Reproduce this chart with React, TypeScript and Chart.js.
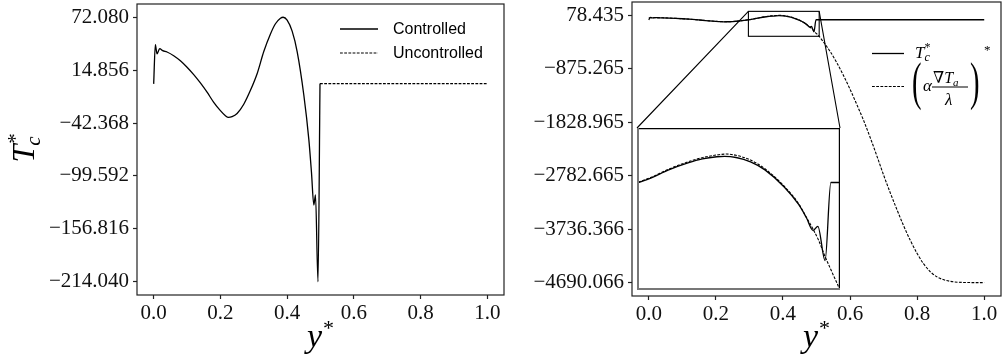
import React, { useEffect, useRef } from 'react';
import { Chart, registerables } from 'chart.js';

Chart.register(...registerables);

// Controlled centre-line temperature T_c* along y*
const Y_CONTROLLED = [
  0, 0.005, 0.01, 0.018, 0.027, 0.04, 0.06, 0.08, 0.10, 0.12,
  0.14, 0.16, 0.18, 0.20, 0.215, 0.224, 0.235, 0.25, 0.27, 0.29,
  0.31, 0.33, 0.35, 0.365, 0.38, 0.388, 0.40, 0.415, 0.43, 0.45,
  0.465, 0.473, 0.48, 0.485, 0.4925, 0.4985,
];
const T_CONTROLLED = [
  0, 42.5, 32.4, 38.1, 36.0, 34.5, 30.5, 25, 18, 10,
  1, -9, -20, -29, -34.5, -36.3, -35.5, -32, -22, -7,
  11, 35, 54, 65, 71, 72.08, 69, 57, 35, -12,
  -60, -96, -131, -120, -214.04, 0.3,
];

// Uncontrolled part of the domain
const Y_UNCONTROLLED = [0.4985, 1.0];
const T_UNCONTROLLED = [0.3, 0.3];

// (alpha * grad T_a / lambda)* along y*
const Y_GRAD = [
  0, 0.027, 0.04, 0.06, 0.08, 0.10, 0.12, 0.14, 0.16, 0.18,
  0.20, 0.215, 0.224, 0.235, 0.25, 0.27, 0.29, 0.31, 0.33, 0.35,
  0.365, 0.38, 0.39, 0.40, 0.415, 0.43, 0.45, 0.465, 0.473, 0.48,
  0.486, 0.492, 0.50, 0.508, 0.52, 0.54, 0.56, 0.58, 0.60, 0.62,
  0.64, 0.66, 0.68, 0.70, 0.72, 0.74, 0.76, 0.78, 0.80, 0.82,
  0.84, 0.86, 0.88, 0.90, 0.92, 0.95, 1.0,
];
const T_GRAD = [
  36, 36.5, 35, 31, 25.5, 18.5, 10.5, 1.5, -8.5, -19.5,
  -28.5, -34, -35.8, -35, -31.5, -21.5, -6, 12.5, 37, 57,
  68.5, 76, 78.435, 75, 62, 38, -10, -58, -95, -128,
  -160, -200, -248, -296, -390, -560, -760, -990, -1240, -1510,
  -1790, -2100, -2430, -2770, -3090, -3390, -3680, -3940, -4170, -4360,
  -4500, -4590, -4640, -4668, -4682, -4688, -4690.066,
];

// Axis ticks
const X_TICKS = [0, 0.2, 0.4, 0.6, 0.8, 1.0];
const X_LABELS = ['0.0', '0.2', '0.4', '0.6', '0.8', '1.0'];
const LEFT_Y_TICKS = [-214.04, -156.816, -99.592, -42.368, 14.856, 72.08];
const LEFT_Y_LABELS = ['−214.040', '−156.816', '−99.592', '−42.368', '14.856', '72.080'];
const RIGHT_Y_TICKS = [-4690.066, -3736.366, -2782.665, -1828.965, -875.265, 78.435];
const RIGHT_Y_LABELS = ['−4690.066', '−3736.366', '−2782.665', '−1828.965', '−875.265', '78.435'];

// Zoomed window shown in the inset
const INSET_X = [0.297, 0.508];
const INSET_Y = [-295, 150];

const LEGEND_LEFT = ['Controlled', 'Uncontrolled'];

const SERIF = "'Liberation Serif', 'DejaVu Serif', serif";
const SANS = "'Liberation Sans', 'DejaVu Sans', sans-serif";
const INK = '#000';
const DASH = [2.8, 1.4];

// inset placement as fractions of the right plot area
const INSET_BOX = { left: 0.014, bottom: 0.02, width: 0.55, height: 0.55 };

const pts = (xs: number[], ys: number[]) => xs.map((x, i) => ({ x, y: ys[i] }));

function paddedRange(series: number[][]) {
  const all = series.flat();
  const lo = Math.min(...all);
  const hi = Math.max(...all);
  const m = 0.05 * (hi - lo);
  return [lo - m, hi + m];
}

const X_RANGE = paddedRange([[...Y_CONTROLLED, ...Y_UNCONTROLLED, ...Y_GRAD]]);

type Run = { t: string; size: number; italic?: boolean; dx?: number; dy?: number; adv?: boolean; sx?: number; family?: string };

function runsWidth(ctx: CanvasRenderingContext2D, runs: Run[]) {
  let w = 0;
  for (const r of runs) {
    ctx.font = `${r.italic ? 'italic ' : ''}${r.size}px ${r.family ?? SERIF}`;
    const rw = ctx.measureText(r.t).width * (r.sx ?? 1);
    if (r.adv !== false) w += (r.dx ?? 0) + rw;
  }
  return w;
}

function drawRuns(ctx: CanvasRenderingContext2D, x: number, y: number, runs: Run[]) {
  let cx = x;
  for (const r of runs) {
    ctx.save();
    ctx.font = `${r.italic ? 'italic ' : ''}${r.size}px ${r.family ?? SERIF}`;
    ctx.textAlign = 'left';
    ctx.textBaseline = 'alphabetic';
    const px = cx + (r.dx ?? 0);
    ctx.translate(px, y + (r.dy ?? 0));
    if (r.sx) ctx.scale(r.sx, 1);
    ctx.fillText(r.t, 0, 0);
    const w = ctx.measureText(r.t).width * (r.sx ?? 1);
    ctx.restore();
    if (r.adv !== false) cx = px + w;
  }
  return cx;
}

const Y_STAR_RUNS: Run[] = [
  { t: 'y', size: 34, italic: true },
  { t: '*', size: 22, dy: -12, dx: 1 },
];

function xTitle(ctx: CanvasRenderingContext2D, cx: number, baseline: number) {
  ctx.fillStyle = INK;
  const w = runsWidth(ctx, Y_STAR_RUNS);
  drawRuns(ctx, cx - w / 2, baseline, Y_STAR_RUNS);
}

function axes(yTicks: number[], yLabels: string[], yRange: number[], yWidth: number, xHeight: number, yPad: number) {
  const tickFont = { family: SERIF, size: 21 };
  const grid = {
    display: true,
    drawOnChartArea: false,
    drawTicks: true,
    tickLength: 4,
    tickColor: '#222',
    tickWidth: 1.2,
  };
  return {
    x: {
      type: 'linear',
      min: X_RANGE[0],
      max: X_RANGE[1],
      afterBuildTicks: (s: any) => {
        s.ticks = X_TICKS.map((v) => ({ value: v }));
      },
      ticks: {
        callback: (_v: any, i: number) => X_LABELS[i],
        font: tickFont,
        color: '#111',
        padding: 2,
        maxRotation: 0,
        autoSkip: false,
      },
      grid,
      border: { display: false },
      afterFit: (s: any) => {
        s.height = xHeight;
        s.paddingLeft = 0;
        s.paddingRight = 0;
      },
    },
    y: {
      type: 'linear',
      min: yRange[0],
      max: yRange[1],
      afterBuildTicks: (s: any) => {
        s.ticks = yTicks.map((v) => ({ value: v }));
      },
      ticks: {
        callback: (_v: any, i: number) => yLabels[i],
        font: tickFont,
        color: '#111',
        padding: yPad,
        autoSkip: false,
      },
      grid,
      border: { display: false },
      afterFit: (s: any) => {
        s.width = yWidth;
        s.paddingTop = 0;
        s.paddingBottom = 0;
      },
    },
  };
}

const framePlugin = {
  id: 'frame',
  afterDraw(chart: any) {
    const { left, top, right, bottom } = chart.chartArea;
    const ctx = chart.ctx;
    ctx.save();
    ctx.strokeStyle = '#222';
    ctx.lineWidth = 1.2;
    ctx.strokeRect(left, top, right - left, bottom - top);
    ctx.restore();
  },
};

function insetBox(area: { left: number; right: number; top: number; bottom: number }) {
  const w = area.right - area.left;
  const h = area.bottom - area.top;
  const left = Math.round(area.left + INSET_BOX.left * w);
  const bottom = Math.round(area.bottom - INSET_BOX.bottom * h);
  const right = Math.round(left + INSET_BOX.width * w);
  const top = Math.round(bottom - INSET_BOX.height * h);
  return { left, right, top, bottom };
}

const solid = (label: string, xs: number[], ys: number[]) => ({
  label,
  data: pts(xs, ys),
  borderColor: INK,
  borderWidth: 1.3,
  pointRadius: 0,
  cubicInterpolationMode: 'monotone',
  fill: false,
});
const dashed = (label: string, xs: number[], ys: number[]) => ({
  ...solid(label, xs, ys),
  borderWidth: 1.1,
  borderDash: DASH,
});

const Y_TC = [...Y_CONTROLLED, ...Y_UNCONTROLLED.slice(1)];
const T_TC = [...T_CONTROLLED, ...T_UNCONTROLLED.slice(1)];

const baseOptions = {
  animation: false,
  responsive: false,
  events: [],
  plugins: { legend: { display: false }, tooltip: { enabled: false } },
};

function leftConfig(): any {
  const yRange = paddedRange([T_CONTROLLED, T_UNCONTROLLED]);
  return {
    type: 'line',
    data: {
      datasets: [
        solid(LEGEND_LEFT[0], Y_CONTROLLED, T_CONTROLLED),
        dashed(LEGEND_LEFT[1], Y_UNCONTROLLED, T_UNCONTROLLED),
      ],
    },
    options: {
      ...baseOptions,
      layout: { padding: { left: 0, right: 8, top: 4, bottom: 0 } },
      scales: axes(LEFT_Y_TICKS, LEFT_Y_LABELS, yRange, 137, 67, 4),
    },
    plugins: [
      framePlugin,
      {
        id: 'leftText',
        afterDraw(chart: any) {
          const ctx = chart.ctx as CanvasRenderingContext2D;
          const area = chart.chartArea;
          ctx.save();
          ctx.fillStyle = INK;
          // legend
          chart.data.datasets.forEach((ds: any, i: number) => {
            const y = 29 + i * 24;
            ctx.beginPath();
            ctx.strokeStyle = INK;
            ctx.lineWidth = ds.borderWidth;
            ctx.setLineDash(ds.borderDash ?? []);
            ctx.moveTo(340, y);
            ctx.lineTo(378, y);
            ctx.stroke();
            ctx.setLineDash([]);
            ctx.font = `16px ${SANS}`;
            ctx.textBaseline = 'middle';
            ctx.fillText(ds.label, 393, y + 1);
          });
          // x title
          xTitle(ctx, (area.left + area.right) / 2, 347);
          // y title, rotated
          const runs: Run[] = [
            { t: 'T', size: 32, italic: true },
            { t: '*', size: 21, dy: -12, dx: 1, adv: false },
            { t: 'c', size: 21, italic: true, dy: 6, dx: -1 },
          ];
          const w = runsWidth(ctx, runs);
          ctx.translate(34, (area.top + area.bottom) / 2);
          ctx.rotate(-Math.PI / 2);
          drawRuns(ctx, -w / 2, 0, runs);
          ctx.restore();
        },
      },
    ],
  };
}

function rightConfig(): any {
  const yRange = paddedRange([T_TC, T_GRAD]);
  return {
    type: 'line',
    data: {
      datasets: [solid('T_c*', Y_TC, T_TC), dashed('grad', Y_GRAD, T_GRAD)],
    },
    options: {
      ...baseOptions,
      layout: { padding: { left: 0, right: 1, top: 2, bottom: 0 } },
      scales: axes(RIGHT_Y_TICKS, RIGHT_Y_LABELS, yRange, 120, 66, 4),
    },
    plugins: [
      framePlugin,
      {
        id: 'zoomMark',
        afterDatasetsDraw(chart: any) {
          const ctx = chart.ctx as CanvasRenderingContext2D;
          const xs = chart.scales.x;
          const ys = chart.scales.y;
          const x0 = xs.getPixelForValue(INSET_X[0]);
          const x1 = xs.getPixelForValue(INSET_X[1]);
          const yT = ys.getPixelForValue(INSET_Y[1]);
          const yB = ys.getPixelForValue(INSET_Y[0]);
          const box = insetBox(chart.chartArea);
          ctx.save();
          ctx.strokeStyle = INK;
          ctx.lineWidth = 1.1;
          ctx.strokeRect(x0, yT, x1 - x0, yB - yT);
          ctx.beginPath();
          ctx.moveTo(x0, yT);
          ctx.lineTo(box.left, box.top);
          ctx.moveTo(x1, yT);
          ctx.lineTo(box.right, box.top);
          ctx.stroke();
          ctx.restore();
        },
      },
      {
        id: 'rightText',
        afterDraw(chart: any) {
          const ctx = chart.ctx as CanvasRenderingContext2D;
          const area = chart.chartArea;
          const ds = chart.data.datasets;
          ctx.save();
          ctx.fillStyle = INK;
          ctx.strokeStyle = INK;
          // legend handles
          [53.5, 86.5].forEach((y, i) => {
            ctx.beginPath();
            ctx.lineWidth = ds[i].borderWidth;
            ctx.setLineDash(ds[i].borderDash ?? []);
            ctx.moveTo(360, y);
            ctx.lineTo(392, y);
            ctx.stroke();
          });
          ctx.setLineDash([]);
          // T_c^*
          drawRuns(ctx, 403, 58, [
            { t: 'T', size: 17, italic: true },
            { t: '*', size: 12, dy: -7, adv: false },
            { t: 'c', size: 12, italic: true, dy: 3 },
          ]);
          // (alpha grad T_a / lambda)^*
          drawRuns(ctx, 400, 99, [{ t: '(', size: 52, sx: 0.55 }]);
          drawRuns(ctx, 411, 90.5, [{ t: 'α', size: 17, italic: true }]);
          drawRuns(ctx, 421, 83, [
            { t: '∇', size: 16 },
            { t: 'T', size: 16, italic: true },
            { t: 'a', size: 11, italic: true, dy: 2.5 },
          ]);
          ctx.beginPath();
          ctx.lineWidth = 1;
          ctx.moveTo(420, 87);
          ctx.lineTo(456, 87);
          ctx.stroke();
          drawRuns(ctx, 433, 105, [{ t: 'λ', size: 17, italic: true }]);
          drawRuns(ctx, 458, 99, [{ t: ')', size: 52, sx: 0.55 }]);
          drawRuns(ctx, 472, 54, [{ t: '*', size: 13 }]);
          // x title
          xTitle(ctx, (area.left + area.right) / 2, 347);
          ctx.restore();
        },
      },
    ],
  };
}

function insetConfig(): any {
  return {
    type: 'line',
    data: {
      datasets: [solid('T_c*', Y_TC, T_TC), dashed('grad', Y_GRAD, T_GRAD)],
    },
    options: {
      ...baseOptions,
      layout: { padding: 0 },
      scales: {
        x: { type: 'linear', display: false, min: INSET_X[0], max: INSET_X[1] },
        y: { type: 'linear', display: false, min: INSET_Y[0], max: INSET_Y[1] },
      },
    },
    plugins: [
      {
        id: 'insetFrame',
        afterDraw(chart: any) {
          const ctx = chart.ctx as CanvasRenderingContext2D;
          const w = chart.width;
          const h = chart.height;
          ctx.save();
          ctx.strokeStyle = INK;
          ctx.lineWidth = 1.2;
          ctx.beginPath();
          ctx.moveTo(0, 0.6);
          ctx.lineTo(w - 0.6, 0.6);
          ctx.lineTo(w - 0.6, h);
          ctx.stroke();
          ctx.strokeStyle = '#777';
          ctx.lineWidth = 2;
          ctx.beginPath();
          ctx.moveTo(1, 0);
          ctx.lineTo(1, h - 1);
          ctx.lineTo(w, h - 1);
          ctx.stroke();
          ctx.restore();
        },
      },
    ],
  };
}

const RIGHT_CANVAS_LEFT = 512;

export default function App() {
  const leftRef = useRef<HTMLCanvasElement>(null);
  const rightRef = useRef<HTMLCanvasElement>(null);
  const insetRef = useRef<HTMLCanvasElement>(null);

  useEffect(() => {
    const left = new Chart(leftRef.current!, leftConfig());
    const right = new Chart(rightRef.current!, rightConfig());
    const box = insetBox(right.chartArea);
    const c = insetRef.current!;
    c.width = box.right - box.left;
    c.height = box.bottom - box.top;
    c.style.left = `${RIGHT_CANVAS_LEFT + box.left}px`;
    c.style.top = `${box.top}px`;
    const inset = new Chart(c, insetConfig());
    return () => {
      inset.destroy();
      right.destroy();
      left.destroy();
    };
  }, []);

  return (
    <div style={{ position: 'absolute', left: 0, top: 0, width: 1002, height: 362, background: '#fff', overflow: 'hidden' }}>
      <canvas ref={leftRef} width={512} height={362} style={{ position: 'absolute', left: 0, top: 0 }} />
      <canvas
        ref={rightRef}
        width={490}
        height={362}
        style={{ position: 'absolute', left: RIGHT_CANVAS_LEFT, top: 0 }}
      />
      <canvas ref={insetRef} width={200} height={160} style={{ position: 'absolute', left: 0, top: 0, background: '#fff' }} />
    </div>
  );
}
